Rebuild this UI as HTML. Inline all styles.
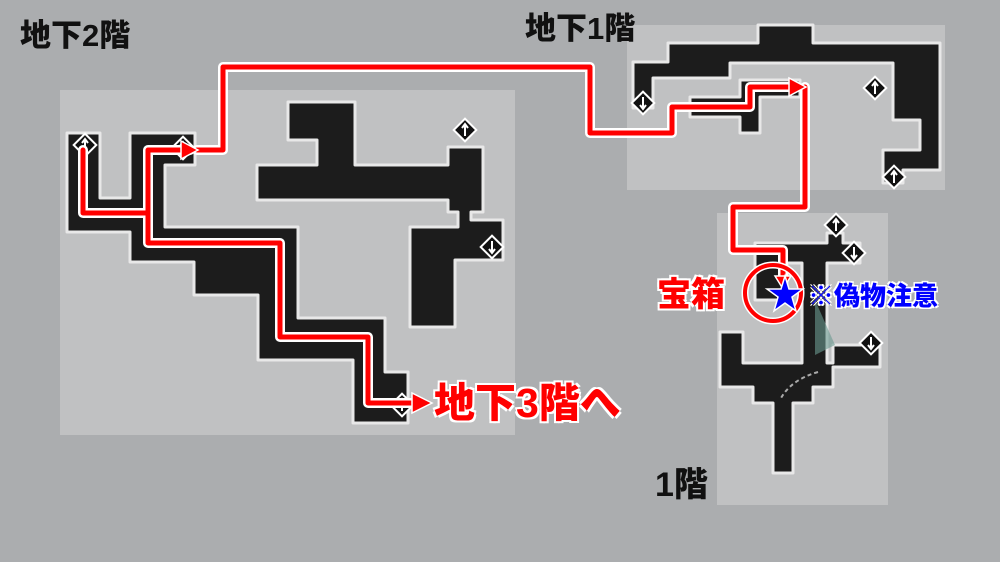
<!DOCTYPE html>
<html><head><meta charset="utf-8"><style>
body{margin:0;width:1000px;height:562px;background:#abadaf;overflow:hidden;font-family:"Liberation Sans","Noto Sans CJK JP",sans-serif}
.t{position:absolute;font-weight:900;white-space:nowrap;line-height:1}
</style></head><body>
<svg width="1000" height="562" style="position:absolute;left:0;top:0">
<defs>
<g id="dia"><rect x="-8" y="-8" width="16" height="16" transform="rotate(45)" fill="#111" stroke="#fff" stroke-width="2"/><path d="M0 -6V6M-3 -2L0 -6L3 -2" stroke="#fff" stroke-width="2" fill="none"/></g>
</defs>
<rect x="60" y="90" width="455" height="345" fill="#c0c1c2"/>
<rect x="627" y="25" width="318" height="165" fill="#c0c1c2"/>
<rect x="717" y="213" width="171" height="292" fill="#c0c1c2"/>
<g fill="#1c1c1c" stroke="#e8e8e8" stroke-width="3" stroke-linejoin="round">
<polygon points="67,133 100,133 100,198 130,198 130,133 195,133 195,165 165,165 165,227 298,227 298,318 385,318 385,372 408,372 408,423 353,423 353,360 258,360 258,295 194,295 194,262 130,262 130,232 67,232"/>
<polygon points="288,102 355,102 355,165 448,165 448,147 483,147 483,212 471,212 471,220 503,220 503,260 455,260 455,327 410,327 410,227 458,227 458,212 448,212 448,200 257,200 257,165 317,165 317,140 288,140"/>
<polygon points="668,43 758,43 758,25 813,25 813,43 940,43 940,170 903,170 903,183 883,183 883,150 920,150 920,120 893,120 893,63 730,63 730,78 653,78 653,108 633,108 633,62 668,62"/>
<polygon points="740,80 800,80 800,97 760,97 760,133 740,133 740,117 690,117 690,97 740,97"/>
<polygon points="827,233 843,233 843,243 860,243 860,263 827,263 827,363 833,363 833,345 880,345 880,367 833,367 833,387 813,387 813,403 793,403 793,473 773,473 773,403 753,403 753,387 720,387 720,332 743,332 743,363 802,363 802,263 787,263 787,300 755,300 755,243 827,243"/>
</g>
<path d="M815 300 L815 355 L835 345Z" fill="#6a9a90" opacity=".6"/>
<path d="M818 372 Q790 380 780 400" stroke="#aaa" stroke-width="2" stroke-dasharray="4 3" fill="none"/>
<use href="#dia" x="85" y="145"/><use href="#dia" x="465" y="130"/><use href="#dia" x="492" y="247" transform="rotate(180 492 247)"/>
<use href="#dia" x="402" y="405"/><use href="#dia" x="183" y="148"/>
<use href="#dia" x="643" y="103" transform="rotate(180 643 103)"/><use href="#dia" x="875" y="88"/><use href="#dia" x="894" y="177"/>
<use href="#dia" x="836" y="225"/><use href="#dia" x="854" y="253" transform="rotate(180 854 253)"/><use href="#dia" x="871" y="343" transform="rotate(180 871 343)"/>
<g fill="none" stroke-linejoin="round" stroke-linecap="round">
<path stroke="#fff" stroke-width="10" d="M83 150V213H148M148 150V243H280V337H368V403H415M148 150H190M197 150H223V67H590V133H672V107H750V87H797M805 87V207H733V250H783V280"/>
<path stroke="#f00" stroke-width="5" d="M83 150V213H148M148 150V243H280V337H368V403H415M148 150H190M197 150H223V67H590V133H672V107H750V87H797M805 87V207H733V250H783V280"/>
</g>
<g fill="#f00" stroke="#fff" stroke-width="1.5">
<polygon points="432,403 412,393 412,413"/><polygon points="198,150 181,141 181,159"/><polygon points="806,87 789,78 789,96"/><polygon points="783,289 775,276 791,276"/>
</g>
<circle cx="773" cy="293" r="28" fill="none" stroke="#fff" stroke-width="7"/>
<circle cx="773" cy="293" r="28" fill="none" stroke="#f00" stroke-width="4"/>
<polygon points="785,276 789,289 803,289 792,297 796,311 785,303 774,311 778,297 767,289 781,289" fill="#00f" stroke="#fff" stroke-width="1.5"/>
</svg>
<div class="t" style="left:20px;top:20px;font-size:31px;color:#111">地下2階</div>
<div class="t" style="left:525px;top:13px;font-size:31px;color:#111">地下1階</div>
<div class="t" style="left:655px;top:468px;font-size:34px;color:#111">1階</div>
<div class="t" style="left:434px;top:383px;font-size:41px;color:#f00;text-shadow:2px 2px 0 #fff,-2px -2px 0 #fff,2px -2px 0 #fff,-2px 2px 0 #fff">地下3階へ</div>
<div class="t" style="left:657px;top:278px;font-size:34px;color:#f00;text-shadow:2px 2px 0 #fff,-2px -2px 0 #fff,2px -2px 0 #fff,-2px 2px 0 #fff">宝箱</div>
<div class="t" style="left:808px;top:283px;font-size:26px;color:#00f;text-shadow:1.5px 1.5px 0 #fff,-1.5px -1.5px 0 #fff,1.5px -1.5px 0 #fff,-1.5px 1.5px 0 #fff">※偽物注意</div>
</body></html>
